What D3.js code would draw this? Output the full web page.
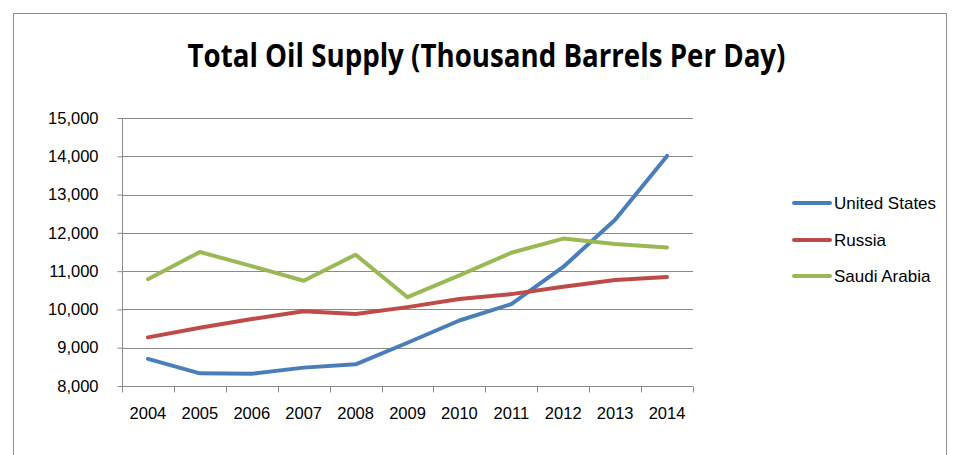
<!DOCTYPE html>
<html><head><meta charset="utf-8">
<script src="https://cdn.jsdelivr.net/npm/d3@7"></script>
<style>
html,body{margin:0;padding:0;background:#fff;}
svg{display:block;font-family:"Liberation Sans",Arial,sans-serif;}
</style></head>
<body>
<svg id="chart" width="961" height="455"></svg>
<script>
const years = ["2004","2005","2006","2007","2008","2009","2010","2011","2012","2013","2014"];
const unitedStates = [8710, 8330, 8320, 8480, 8565, 9130, 9710, 10140, 11110, 12340, 14010];
const russia = [9270, 9520, 9750, 9950, 9880, 10060, 10270, 10400, 10590, 10770, 10850];
const saudiArabia = [10790, 11500, 11130, 10750, 11430, 10320, 10890, 11480, 11850, 11710, 11620];
const seriesNames = ["United States", "Russia", "Saudi Arabia"];
const yTicks = [8000, 9000, 10000, 11000, 12000, 13000, 14000, 15000];
const title = "Total Oil Supply (Thousand Barrels Per Day)";

const colors = ["#4A7EBB", "#BE4B48", "#98B954"];
const seriesData = [unitedStates, russia, saudiArabia];

const svg = d3.select("#chart");
const pL = 122, pR = 693, pT = 118, pB = 386;

// outer frame
svg.append("rect").attr("x", 13.5).attr("y", 13.5).attr("width", 933).attr("height", 460)
  .attr("fill", "#fff").attr("stroke", "#8c8c8c").attr("stroke-width", 1);

// title
svg.append("text").attr("x", 486.5).attr("y", 67).attr("text-anchor", "middle")
  .attr("font-family", "'Open Sans','Liberation Sans',sans-serif")
  .attr("font-weight", "bold").attr("font-size", 33).attr("fill", "#000")
  .attr("textLength", 598).attr("lengthAdjust", "spacingAndGlyphs")
  .text(title);

const x = d3.scaleBand().domain(years).range([pL, pR]).padding(0);
const y = d3.scaleLinear().domain([8000, 15000]).range([pB, pT]);

// gridlines
svg.append("g").selectAll("line").data(yTicks).join("line")
  .attr("x1", pL).attr("x2", pR)
  .attr("y1", d => Math.round(y(d)) + 0.5).attr("y2", d => Math.round(y(d)) + 0.5)
  .attr("stroke", "#8a8a8a").attr("stroke-width", 1);

// y axis
const yAxis = svg.append("g").attr("transform", `translate(${pL + 0.5},0)`)
  .call(d3.axisLeft(y).tickValues(yTicks).tickFormat(d3.format(",")).tickSize(5).tickPadding(19));
yAxis.select(".domain").attr("stroke", "#8a8a8a").attr("d", `M0,${pT}V${pB}`);
yAxis.selectAll(".tick line").attr("stroke", "#8a8a8a");
yAxis.selectAll(".tick text").attr("font-size", 16.5).attr("fill", "#000").attr("font-family", "'Liberation Sans',sans-serif");

// x axis
const xAxis = svg.append("g").attr("transform", `translate(0,${pB + 0.5})`)
  .call(d3.axisBottom(x).tickSize(0).tickPadding(21));
xAxis.select(".domain").attr("stroke", "#8a8a8a").attr("d", `M${pL},0H${pR}`);
xAxis.selectAll(".tick text").attr("font-size", 16.5).attr("fill", "#000").attr("font-family", "'Liberation Sans',sans-serif");
// boundary ticks
const bounds = years.map(d => x(d)).concat([x(years[years.length - 1]) + x.bandwidth()]);
xAxis.append("g").selectAll("line").data(bounds).join("line")
  .attr("x1", d => Math.round(d) + 0.5).attr("x2", d => Math.round(d) + 0.5)
  .attr("y1", 0).attr("y2", 6).attr("stroke", "#8a8a8a");

// lines
const line = d3.line().x((d, i) => x(years[i]) + x.bandwidth() / 2).y(d => y(d));
svg.append("g").selectAll("path").data(seriesData).join("path")
  .attr("d", d => line(d)).attr("fill", "none")
  .attr("stroke", (d, i) => colors[i]).attr("stroke-width", 4)
  .attr("stroke-linecap", "round").attr("stroke-linejoin", "round");

// legend
const legY = [203, 240, 276];
const leg = svg.append("g").selectAll("g").data(seriesNames).join("g")
  .attr("transform", (d, i) => `translate(0,${legY[i]})`);
leg.append("line").attr("x1", 794).attr("x2", 830).attr("y1", 0).attr("y2", 0)
  .attr("stroke", (d, i) => colors[i]).attr("stroke-width", 4).attr("stroke-linecap", "round");
leg.append("text").attr("x", 834).attr("y", 0).attr("dy", "0.35em")
  .attr("font-size", 17).attr("fill", "#000").text(d => d);
</script>
</body></html>
